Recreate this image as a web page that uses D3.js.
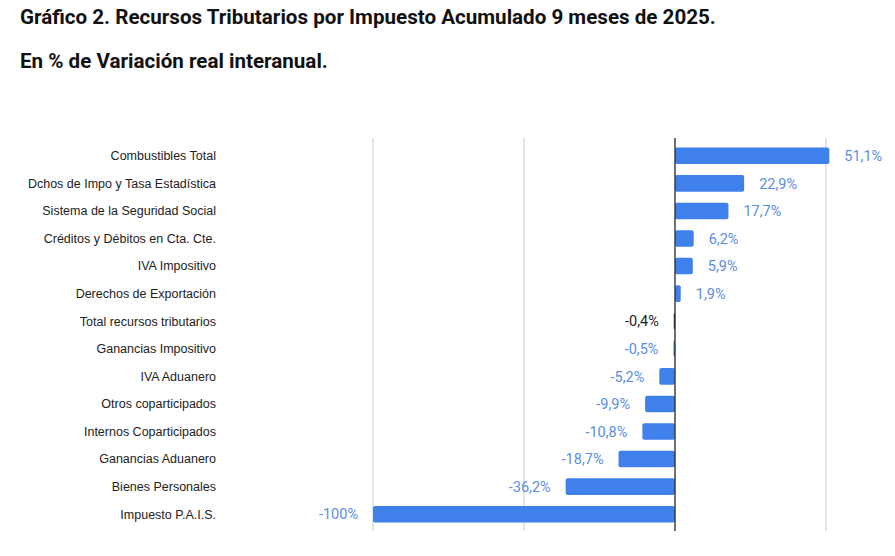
<!DOCTYPE html>
<html>
<head>
<meta charset="utf-8">
<script src="https://cdn.jsdelivr.net/npm/d3@7"></script>
<style>
  body { margin: 0; background: #fff; }
  .title { font-family: Roboto, sans-serif; font-weight: bold; fill: #111; }
</style>
</head>
<body>
<script>
// categorias y variacion real interanual (%)
var categories = [
  "Combustibles Total",
  "Dchos de Impo y Tasa Estadística",
  "Sistema de la Seguridad Social",
  "Créditos y Débitos en Cta. Cte.",
  "IVA Impositivo",
  "Derechos de Exportación",
  "Total recursos tributarios",
  "Ganancias Impositivo",
  "IVA Aduanero",
  "Otros coparticipados",
  "Internos Coparticipados",
  "Ganancias Aduanero",
  "Bienes Personales",
  "Impuesto P.A.I.S."
];
var values = [51.1, 22.9, 17.7, 6.2, 5.9, 1.9, -0.4, -0.5, -5.2, -9.9, -10.8, -18.7, -36.2, -100];
var valueLabels = ["51,1%", "22,9%", "17,7%", "6,2%", "5,9%", "1,9%", "-0,4%", "-0,5%", "-5,2%", "-9,9%", "-10,8%", "-18,7%", "-36,2%", "-100%"];
var gridTicks = [-100, -50, 0, 50];
var highlight = "Total recursos tributarios";

var W = 895, H = 556;
var svg = d3.select("body").append("svg")
  .attr("width", W)
  .attr("height", H);

svg.append("text").attr("class", "title")
  .attr("x", 20).attr("y", 24)
  .style("font-size", "20.6px")
  .text("Gráfico 2. Recursos Tributarios por Impuesto Acumulado 9 meses de 2025.");
svg.append("text").attr("class", "title")
  .attr("x", 20).attr("y", 68)
  .style("font-size", "20.6px")
  .text("En % de Variación real interanual.");

var x = d3.scaleLinear().domain([-100, 50]).range([373, 826]);
var y = d3.scaleBand().domain(categories).range([142, 528]).paddingInner(0.4).paddingOuter(0.2);

// grid
svg.append("g").selectAll("line")
  .data(gridTicks.filter(function(d) { return d != 0; }))
  .enter().append("line")
  .attr("x1", function(d) { return x(d); })
  .attr("x2", function(d) { return x(d); })
  .attr("y1", 138).attr("y2", 531)
  .attr("stroke", "#d4d4d4")
  .attr("stroke-width", 1.2);

// bars
svg.append("g").selectAll("rect")
  .data(categories)
  .enter().append("rect")
  .attr("x", function(d, i) { return x(Math.min(0, values[i])); })
  .attr("y", function(d) { return y(d); })
  .attr("width", function(d, i) { return Math.abs(x(values[i]) - x(0)); })
  .attr("height", y.bandwidth())
  .attr("rx", 2)
  .attr("fill", function(d) { return d == highlight ? "#111" : "#3f80ea"; });

// zero line
svg.append("line")
  .attr("x1", x(0)).attr("x2", x(0))
  .attr("y1", 138).attr("y2", 531)
  .attr("stroke", "#333")
  .attr("stroke-width", 1.4);

// category labels
svg.append("g").selectAll("text")
  .data(categories)
  .enter().append("text")
  .attr("x", 216)
  .attr("y", function(d) { return y(d) + y.bandwidth() / 2; })
  .attr("dy", "0.35em")
  .attr("text-anchor", "end")
  .style("font-family", "'Liberation Sans', Arial, sans-serif")
  .style("font-size", "12.5px")
  .attr("fill", "#222")
  .text(function(d) { return d; });

// value labels
svg.append("g").selectAll("text")
  .data(categories)
  .enter().append("text")
  .attr("x", function(d, i) { return values[i] >= 0 ? x(values[i]) + 15 : x(values[i]) - 15; })
  .attr("y", function(d) { return y(d) + y.bandwidth() / 2; })
  .attr("dy", "0.36em")
  .attr("text-anchor", function(d, i) { return values[i] >= 0 ? "start" : "end"; })
  .style("font-family", "Roboto, sans-serif")
  .style("font-size", "14.5px")
  .attr("fill", function(d) { return d == highlight ? "#222" : "#5a8de3"; })
  .text(function(d, i) { return valueLabels[i]; });
</script>
</body>
</html>
